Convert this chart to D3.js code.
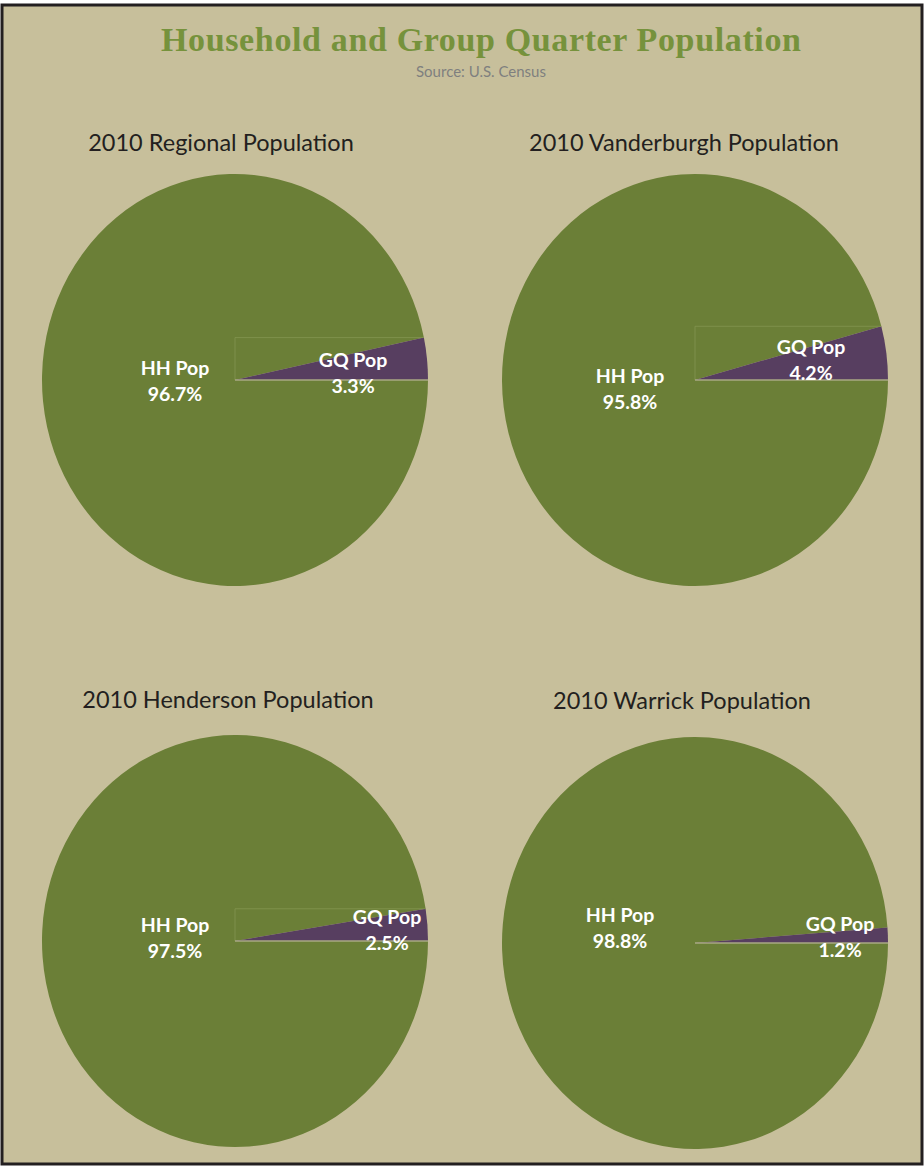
<!doctype html>
<html>
<head>
<meta charset="utf-8">
<script src="https://cdnjs.cloudflare.com/ajax/libs/d3/7.8.5/d3.min.js"></script>
<style>
    body { margin: 0; background: #fff; }
    svg { display: block; }
</style>
</head>
<body>
<script>
    // values
    var regions = ["2010 Regional Population", "2010 Vanderburgh Population",
                   "2010 Henderson Population", "2010 Warrick Population"];
    var categories = ["HH Pop", "GQ Pop"];
    var hhPct = [96.7, 95.8, 97.5, 98.8];
    var gqPct = [3.3, 4.2, 2.5, 1.2];

    var width = 924, height = 1168;
    var rx = 193, ry = 206;
    var green = "#6b7f37", purple = "#573e60", bg = "#c7bf9b";

    // layout of the 2x2 grid
    var cells = [
        {cx: 235, cy: 380, tx: 221, ty: 151, hh: [175, 375], gq: [353, 367]},
        {cx: 695, cy: 380, tx: 684, ty: 151, hh: [630, 383], gq: [811, 354]},
        {cx: 235, cy: 941, tx: 228, ty: 708, hh: [175, 932], gq: [387, 924]},
        {cx: 695, cy: 943, tx: 682, ty: 709, hh: [620, 922], gq: [840, 931]}
    ];

    var svg = d3.select("body").append("svg")
        .attr("width", width)
        .attr("height", height);

    svg.append("rect")
        .attr("x", 2).attr("y", 5)
        .attr("width", width - 4).attr("height", height - 9)
        .attr("fill", bg)
        .attr("stroke", "#231f20")
        .attr("stroke-width", 3);

    svg.append("text")
        .attr("x", 481).attr("y", 51)
        .attr("text-anchor", "middle")
        .attr("textLength", 640)
        .style("font-family", "'Liberation Serif', serif")
        .style("font-weight", "bold")
        .style("font-size", "34px")
        .style("fill", "#76923c")
        .text("Household and Group Quarter Population");

    svg.append("text")
        .attr("x", 481).attr("y", 77)
        .attr("text-anchor", "middle")
        .style("font-family", "Lato, sans-serif")
        .style("font-size", "15px")
        .style("fill", "#7f7f7f")
        .text("Source: U.S. Census");

    var color = d3.scaleOrdinal().domain(categories).range([green, purple]);
    var arc = d3.arc().innerRadius(0).outerRadius(rx);
    var fmt = function(v) { return v.toFixed(1) + "%"; };

    regions.forEach(function(name, i) {
        var c = cells[i];
        var frac = gqPct[i] / 100;
        // GQ slice sits just above 3 o'clock, HH fills the rest
        var slices = [
            {key: "HH Pop", startAngle: Math.PI / 2, endAngle: Math.PI / 2 + (1 - frac) * 2 * Math.PI},
            {key: "GQ Pop", startAngle: Math.PI / 2 - frac * 2 * Math.PI, endAngle: Math.PI / 2}
        ];

        svg.append("text")
            .attr("x", c.tx).attr("y", c.ty)
            .attr("text-anchor", "middle")
            .style("font-family", "Lato, sans-serif")
            .style("font-size", "23.5px")
            .style("fill", "#231f20")
            .text(name);

        var g = svg.append("g")
            .attr("transform", "translate(" + c.cx + "," + c.cy + ") scale(1," + (ry / rx) + ")");

        g.selectAll("path")
            .data(slices)
            .enter().append("path")
            .attr("d", arc)
            .attr("fill", function(d) { return color(d.key); });

        // faint box edges above the small slice and a light base line
        var top = -rx * Math.sin(frac * 2 * Math.PI) * (ry / rx);
        var end = rx * Math.cos(frac * 2 * Math.PI);
        var box = svg.append("g").attr("transform", "translate(" + c.cx + "," + c.cy + ")");
        if (gqPct[i] > 2) {
            box.append("path")
                .attr("d", "M0,0V" + top + "H" + end)
                .attr("fill", "none")
                .attr("stroke", "#849550")
                .attr("stroke-width", 0.8);
        }
        box.append("line")
            .attr("x1", 0).attr("x2", rx)
            .attr("y1", 0).attr("y2", 0)
            .attr("stroke", "#a9a884")
            .attr("stroke-width", 1.5);

        var labels = [
            {pos: c.hh, name: "HH Pop", val: hhPct[i]},
            {pos: c.gq, name: "GQ Pop", val: gqPct[i]}
        ];
        labels.forEach(function(l) {
            var t = svg.append("text")
                .attr("text-anchor", "middle")
                .style("font-family", "Lato, sans-serif")
                .style("font-weight", "bold")
                .style("font-size", "19.5px")
                .style("fill", "#ffffff");
            t.append("tspan").attr("x", l.pos[0]).attr("y", l.pos[1]).text(l.name);
            t.append("tspan").attr("x", l.pos[0]).attr("y", l.pos[1] + 26).text(fmt(l.val));
        });
    });
</script>
</body>
</html>
